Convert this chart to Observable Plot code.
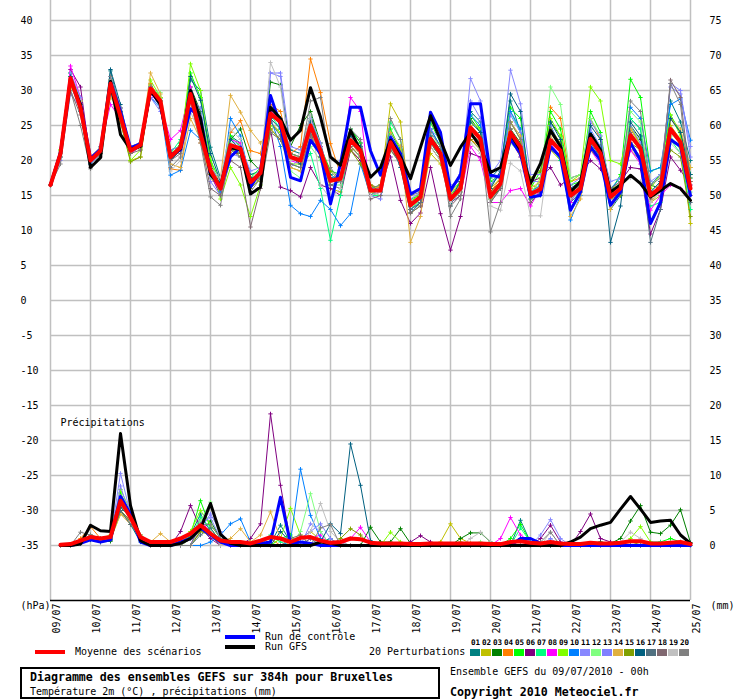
<!DOCTYPE html>
<html>
<head>
<meta charset="utf-8">
<script src="https://cdn.jsdelivr.net/npm/d3@7"></script>
<script src="https://cdn.jsdelivr.net/npm/@observablehq/plot@0.6"></script>
<style>
  html, body { margin: 0; padding: 0; background: #fff; }
  #wrap { position: relative; width: 740px; height: 700px; font-family: 'DejaVu Sans Mono', monospace; font-size: 10px; color: #000; overflow: hidden; }
  #chart { position: absolute; left: 0; top: 0; }
  #legend { position: absolute; left: 0; top: 0; width: 740px; height: 700px; }
  .abs { position: absolute; white-space: nowrap; }
  .txt { line-height: 12px; }
  .bold { font-weight: bold; font-size: 11.6px; line-height: 14px; }
  .num { font-weight: bold; font-size: 7.6px; line-height: 9px; width: 11px; text-align: center; }
</style>
</head>
<body>
<div id="wrap">
  <div id="chart"></div>
  <div id="legend"></div>
</div>
<script>
// ---------- Axis / labels ----------
const dates = ["09/07","10/07","11/07","12/07","13/07","14/07","15/07","16/07","17/07","18/07","19/07","20/07","21/07","22/07","23/07","24/07","25/07"];
const leftTicks = [-35,-30,-25,-20,-15,-10,-5,0,5,10,15,20,25,30,35,40];
const memberColors = ["#008080","#c0c000","#008000","#ff8000","#00ff00","#800080","#00ff80","#ff00ff","#80ff00","#0080ff","#8888ff","#80ff80","#8080ff","#e0b040","#80a000","#006080","#507080","#806870","#c0c0c0","#808080"];
const memberLabels = ["01","02","03","04","05","06","07","08","09","10","11","12","13","14","15","16","17","18","19","20"];

// ---------- Temperature 2m (°C), every 6h from 09/07 00h ----------
const meanT = [16.5,21.0,31.8,27.5, 20.0,21.4,31.0,26.3, 21.4,22.2,30.3,28.5, 20.5,21.9,29.5,23.8, 18.6,16.0,22.2,21.7, 16.9,18.2,26.7,25.5, 20.5,20.0,25.0,21.4, 17.1,17.4,22.9,21.4, 15.7,15.7,22.6,20.0, 13.6,14.8,23.1,21.0, 14.5,16.0,24.7,23.1, 14.8,16.7,24.0,21.9, 15.2,15.9,22.9,21.4, 15.0,16.0,23.1,21.0, 14.8,16.0,23.6,21.7, 15.0,16.2,24.5,22.6, 16.0];
const ctrlT = [16.5,21.2,31.5,28.0, 20.3,21.6,31.2,27.0, 21.8,22.4,30.0,28.0, 20.8,21.5,27.4,26.0, 18.0,16.3,20.5,21.9, 16.2,18.5,29.3,25.0, 17.6,17.1,22.9,21.0, 13.8,19.5,27.6,27.6, 21.4,17.9,23.3,21.0, 15.2,16.0,26.9,24.0, 15.7,18.0,28.1,28.1, 17.9,17.6,23.0,21.0, 14.8,15.0,22.0,20.5, 12.9,15.5,22.0,20.0, 13.6,15.5,22.5,20.0, 11.0,14.0,23.0,22.0, 15.0];
const gfsT = [16.5,21.0,31.5,28.0, 19.0,20.4,31.3,23.7, 21.6,22.0,30.0,28.0, 20.5,21.7,30.0,26.0, 18.0,16.4,21.8,21.6, 15.2,16.2,27.6,26.0, 22.9,24.3,30.4,26.2, 20.5,19.3,24.3,21.4, 17.6,19.0,22.9,20.5, 17.4,21.9,26.4,22.9, 19.3,21.9,24.0,21.9, 18.3,19.0,23.8,21.5, 16.7,19.6,24.3,22.0, 15.5,17.0,23.8,21.5, 15.5,16.5,17.9,16.7, 14.8,15.7,16.7,16.0, 14.3];
const t01 = [16.5,21.2,32.5,28.5, 20.5,21.8,32.8,27.0, 21.0,22.5,30.8,28.9, 20.0,22.5,31.5,30.0, 21.9,17.5,23.5,22.5, 18.0,18.5,27.5,26.0, 21.5,21.0,26.5,22.0, 18.0,17.0,24.5,22.5, 16.5,16.0,24.0,21.5, 14.0,15.5,24.5,22.0, 13.5,17.0,27.0,25.5, 17.5,19.0,28.5,24.0, 15.0,16.5,25.0,22.0, 14.0,15.5,22.5,20.5, 13.0,15.0,26.0,24.5, 16.5,18.0,28.5,25.5, 20.0];
const t02 = [16.5,20.5,30.5,28.0, 19.5,21.0,30.0,25.5, 20.0,20.5,30.5,29.0, 21.0,22.0,29.0,25.0, 18.0,15.5,21.0,22.5, 17.5,17.0,25.5,24.0, 19.0,18.5,23.5,21.0, 16.0,15.5,21.5,20.0, 15.0,16.5,28.1,25.5, 12.5,13.5,21.0,19.5, 15.0,16.0,25.0,23.0, 16.0,17.5,23.0,21.0, 16.5,16.0,21.5,20.0, 15.5,16.0,22.0,20.0, 16.0,16.5,21.5,20.0, 14.0,15.0,25.0,23.0, 11.0];
const t03 = [16.5,21.0,32.0,27.0, 20.0,21.0,31.0,26.5, 21.5,22.0,30.0,28.0, 21.5,22.0,30.5,27.0, 19.5,16.5,23.0,24.5, 20.0,18.5,31.2,30.8, 22.0,25.0,27.0,22.5, 17.0,17.5,23.0,21.5, 16.0,15.5,22.0,20.0, 13.0,14.0,22.5,20.5, 14.0,16.5,26.0,24.0, 14.5,16.0,24.5,22.5, 14.0,15.5,25.5,23.5, 14.5,16.5,24.0,22.0, 15.0,17.0,25.0,23.0, 16.5,16.0,24.0,22.5, 17.5];
const t04 = [16.5,21.0,31.5,28.0, 20.0,22.0,30.0,26.5, 22.0,22.5,31.0,28.5, 18.8,18.6,28.5,22.5, 17.5,16.0,24.0,25.7, 21.4,21.0,28.0,27.0, 21.0,22.0,34.5,29.7, 22.4,18.0,23.5,21.5, 16.5,16.0,23.0,20.5, 14.0,14.5,23.5,21.5, 15.0,16.5,23.0,22.0, 15.5,17.5,25.5,23.0, 15.0,16.5,27.6,26.0, 17.0,17.5,26.0,23.0, 15.5,16.5,24.5,22.5, 14.5,17.0,26.0,24.0, 17.0];
const t05 = [16.5,21.5,32.5,28.0, 20.0,21.5,30.5,26.0, 21.0,22.0,29.5,28.5, 20.5,22.5,32.5,29.0, 20.0,17.0,23.5,22.0, 17.5,19.0,27.0,26.0, 21.0,20.5,26.0,22.0, 18.5,18.0,24.5,22.5, 16.0,16.5,24.5,21.5, 14.5,15.0,25.5,22.5, 15.0,17.0,26.5,24.5, 17.0,18.0,27.5,26.0, 16.0,18.5,27.0,24.5, 16.5,17.0,27.0,24.0, 15.5,18.0,31.6,29.0, 18.5,19.0,26.5,24.0, 18.0];
const t06 = [16.5,21.0,33.0,30.5, 20.0,21.0,30.5,27.5, 21.5,22.5,30.5,28.5, 20.0,21.5,29.0,23.5, 18.0,15.0,21.0,21.0, 17.0,17.5,24.5,16.2, 15.7,14.8,19.0,16.5, 16.0,15.0,21.5,20.0, 16.0,16.0,20.5,14.3, 11.0,12.5,19.0,12.4, 7.2,12.0,21.0,20.5, 15.5,17.0,23.0,20.5, 17.0,17.5,19.0,16.5, 17.5,18.0,20.0,18.8, 16.0,17.0,19.0,18.8, 9.5,13.0,20.5,18.6, 16.5];
const t07 = [16.5,21.0,32.0,27.5, 19.5,21.5,31.0,26.5, 21.0,22.0,30.0,28.0, 21.0,23.0,30.0,25.0, 18.5,15.5,22.0,21.0, 16.5,18.0,26.5,24.5, 19.5,19.0,21.0,16.0, 8.6,15.0,23.0,21.5, 15.0,15.0,25.5,23.0, 13.0,14.5,22.5,20.5, 14.0,15.5,24.0,22.5, 14.5,16.5,27.0,24.0, 14.5,16.0,22.0,20.0, 15.5,16.5,23.5,21.0, 14.0,15.5,26.0,24.5, 13.5,14.0,23.0,21.0, 13.0];
const t08 = [16.5,21.0,33.5,29.0, 20.5,22.0,28.0,26.0, 21.0,22.0,29.5,28.0, 23.0,24.3,30.5,26.0, 18.0,15.5,23.0,22.5, 17.0,18.5,27.0,26.0, 20.0,19.5,25.5,22.0, 17.0,17.5,29.0,27.0, 15.0,15.5,22.0,19.5, 13.5,14.5,23.0,20.5, 14.0,15.0,22.0,20.0, 14.0,14.0,15.7,16.0, 13.5,16.0,22.5,20.5, 14.0,16.5,21.5,19.5, 14.0,15.5,21.5,19.5, 12.9,15.0,16.5,16.0, 15.0];
const t09 = [16.5,21.5,32.0,28.5, 20.5,21.0,31.5,27.0, 20.0,21.5,31.5,29.0, 21.0,22.0,33.8,30.0, 20.5,14.5,19.0,16.5, 12.0,16.5,25.0,24.0, 19.5,19.5,24.0,20.5, 17.5,17.0,22.0,20.5, 15.5,16.0,23.0,22.0, 14.0,15.5,22.0,20.0, 15.5,17.0,25.5,24.5, 16.5,18.0,25.5,23.0, 15.0,17.5,26.0,23.5, 17.0,18.0,30.5,28.5, 20.0,19.5,25.0,22.0, 16.0,18.0,26.5,23.5, 19.0];
const t10 = [16.5,20.5,31.0,27.0, 19.5,21.0,30.5,26.0, 22.0,22.5,29.0,27.5, 17.9,18.6,24.3,23.0, 18.5,15.5,26.0,23.5, 17.0,18.0,26.0,22.0, 13.6,12.4,12.0,14.3, 13.0,10.7,12.4,19.5, 15.0,16.0,23.5,21.0, 13.5,15.0,24.5,22.0, 16.0,17.5,26.5,25.0, 16.5,18.0,27.0,24.5, 15.5,16.5,23.0,21.5, 11.5,15.0,24.0,22.0, 16.0,17.5,27.6,26.0, 18.5,19.0,28.0,28.8, 22.9];
const t11 = [16.5,21.0,32.5,29.0, 20.0,22.0,32.0,27.5, 21.0,22.5,29.0,28.0, 21.5,22.0,29.0,27.5, 19.0,17.0,23.0,22.0, 18.5,19.0,32.5,32.0, 19.0,20.5,26.0,22.5, 17.5,18.0,24.0,21.5, 16.0,16.0,22.5,20.5, 14.5,15.5,23.0,21.0, 16.5,17.0,31.7,28.5, 18.0,20.0,32.9,28.1, 18.0,18.0,25.0,22.0, 16.5,17.5,24.5,22.0, 17.0,17.5,25.0,22.5, 17.0,18.0,30.5,29.5, 22.0];
const t12 = [16.5,21.0,31.5,27.0, 20.0,21.0,30.0,26.5, 21.0,22.5,30.0,29.7, 21.0,22.0,29.0,23.0, 17.5,16.5,22.5,21.0, 16.0,17.5,24.0,23.0, 18.5,17.5,22.0,20.0, 16.5,16.5,22.0,20.5, 15.5,15.0,21.5,19.5, 13.5,14.0,23.5,22.0, 15.0,16.5,24.0,22.5, 15.5,16.0,22.5,21.0, 15.5,17.0,30.5,28.0, 17.5,18.0,26.0,23.5, 15.5,17.0,27.0,25.5, 15.0,15.5,23.5,21.5, 15.5];
const t13 = [16.5,20.0,29.5,27.5, 19.5,21.0,29.5,26.0, 21.5,22.0,29.0,27.0, 21.0,21.5,28.5,25.5, 17.0,15.0,21.0,20.5, 16.5,18.5,32.5,32.5, 22.0,21.5,25.0,21.0, 17.0,17.5,23.5,22.0, 15.0,14.5,22.0,20.5, 13.0,14.0,24.5,23.0, 16.0,18.0,28.5,26.0, 16.5,18.5,26.5,24.0, 17.0,17.0,24.0,22.0, 16.0,17.0,25.5,23.5, 15.5,16.5,24.0,22.0, 15.5,17.0,31.0,30.0, 20.5];
const t14 = [16.5,21.0,30.5,28.5, 20.0,21.0,29.0,27.0, 21.0,22.5,32.5,29.5, 19.5,19.0,26.0,23.0, 18.0,17.5,29.3,26.9, 24.3,22.5,24.5,23.0, 19.0,18.5,23.5,20.5, 17.0,17.5,22.0,21.0, 15.5,16.5,24.0,22.0, 8.3,12.0,22.5,21.0, 15.5,16.5,25.0,23.5, 14.5,16.5,25.5,23.5, 16.0,17.0,23.5,21.5, 12.0,14.5,22.0,20.0, 13.0,15.5,24.5,22.0, 14.0,16.0,26.0,24.5, 19.0];
const t15 = [16.5,21.0,31.0,27.5, 20.0,21.0,30.0,25.5, 19.8,20.5,30.0,28.0, 20.5,21.5,29.5,23.0, 18.0,16.0,22.0,20.5, 16.0,17.5,24.5,23.0, 21.0,20.5,24.5,21.5, 18.5,17.0,21.5,19.5, 16.5,15.5,21.5,20.0, 14.0,15.0,22.5,20.5, 14.0,15.5,23.0,21.5, 15.5,17.0,23.5,21.0, 17.5,18.5,24.5,22.5, 15.5,16.5,21.5,20.0, 14.5,15.0,22.5,21.5, 15.5,16.0,21.5,20.5, 12.0];
const t16 = [16.5,21.0,32.0,28.0, 20.5,22.0,33.0,28.0, 21.5,22.0,30.5,28.5, 20.0,21.5,32.0,28.6, 21.0,17.0,23.0,21.5, 17.5,18.0,26.0,24.5, 20.5,19.5,25.5,21.5, 17.5,17.5,23.5,22.0, 16.0,15.5,22.5,19.0, 12.5,14.0,23.5,21.5, 14.5,17.0,25.5,24.0, 16.0,18.5,29.5,27.0, 15.0,16.0,25.5,23.0, 16.0,17.0,25.0,23.0, 8.3,13.5,25.5,23.5, 15.5,17.0,26.0,24.0, 18.0];
const t17 = [16.5,21.0,31.5,27.0, 20.0,21.5,31.5,27.0, 21.5,22.0,30.5,28.0, 20.5,22.0,30.0,24.5, 19.0,16.0,21.5,21.0, 17.0,18.5,25.5,23.5, 20.5,20.0,24.0,20.5, 16.5,17.0,22.5,21.0, 15.0,15.5,22.0,20.0, 13.0,14.0,22.5,20.5, 14.0,15.0,23.5,22.5, 14.0,16.0,23.5,21.5, 14.5,15.0,21.5,20.5, 14.5,15.5,22.0,20.5, 15.0,16.0,22.5,20.5, 8.3,13.0,24.0,22.5, 14.0];
const t18 = [16.5,20.5,30.0,26.5, 19.0,20.5,30.0,26.0, 21.0,21.5,30.0,27.5, 20.0,21.0,28.5,23.0, 16.0,15.0,20.0,19.0, 10.5,16.0,24.0,23.0, 19.5,19.0,23.5,20.5, 16.5,16.0,22.0,20.5, 14.5,15.0,21.5,19.5, 12.5,13.5,22.0,20.0, 13.5,15.0,24.0,22.5, 14.0,16.0,24.5,22.0, 14.0,15.5,23.0,21.5, 14.5,16.0,23.5,21.5, 14.5,15.5,24.0,22.0, 14.5,16.5,31.5,29.0, 17.0];
const t19 = [16.5,21.0,31.5,28.5, 20.5,22.0,31.5,27.5, 22.0,22.5,30.5,28.5, 18.5,20.0,27.0,23.5, 19.0,17.5,24.5,23.0, 17.0,19.0,34.0,30.5, 20.0,21.0,26.5,16.5, 14.5,16.0,23.0,21.0, 15.0,15.5,22.5,20.0, 14.0,15.0,22.0,20.0, 14.0,15.5,22.5,21.0, 13.5,12.9,19.6,18.5, 12.1,12.1,22.5,21.5, 14.5,15.5,22.0,20.0, 14.5,16.5,17.5,17.0, 14.0,15.5,22.5,21.0, 15.0];
const t20 = [16.5,19.5,30.0,25.0, 18.8,21.0,32.0,27.5, 21.5,22.5,30.5,28.0, 19.0,20.5,28.5,22.5, 14.8,13.6,21.5,20.5, 15.5,17.5,27.5,26.0, 21.0,20.5,28.5,29.0, 19.0,17.0,24.5,23.0, 16.0,16.5,26.0,23.0, 15.0,15.5,24.0,22.0, 12.0,14.5,24.5,23.0, 9.8,14.0,25.5,23.0, 15.5,16.0,24.0,22.0, 15.5,16.5,23.5,21.5, 16.0,17.0,28.5,27.0, 16.5,17.5,31.0,28.0, 15.0];

// ---------- Precipitation (mm / 6h), from 09/07 06h ----------
const meanP = [0.1,0.2,0.7,1.2,1.0,1.2,6.4,4.0, 1.2,0.5,0.5,0.5,1.0,1.7,2.9,1.7, 0.7,0.5,0.5,0.3,0.7,1.2,1.0,0.5, 1.1,1.2,0.7,0.4,0.5,1.0,0.9,0.4, 0.3,0.3,0.3,0.2,0.2,0.3,0.3,0.3, 0.3,0.3,0.3,0.2,0.2,0.5,0.6,0.4, 0.3,0.5,0.3,0.2,0.2,0.4,0.3,0.3, 0.4,0.6,0.6,0.3,0.3,0.4,0.5,0.2];
const ctrlP = [0,0,0.3,0.8,0.5,0.8,7.0,4.5, 0.5,0,0,0,0.5,1.0,2.5,1.5, 0.5,0,0,0,0.3,0.5,6.9,0.3, 0.5,0.3,0,0,0,0,0,0, 0,0,0,0,0,0,0,0, 0,0,0,0,0,0,1.0,1.0, 0.3,0,0,0,0,0,0,0, 0,0,0,0,0,0,0,0];
const gfsP = [0,0,0.2,2.9,2.1,2.0,16.0,5.7, 0.7,0,0,0,0.3,1.0,2.4,6.0, 1.6,0.3,0,0,0,0,0,0, 0,0,0.5,0.3,0,0,0,0, 0,0,0,0,0,0,0,0, 0,0,0,0,0,0,0,0, 0,0,0,0.5,1.2,2.4,2.9,3.3, 5.2,7.0,5.2,3.3,3.5,3.6,1.5,0.3];
const p01 = [0,0,0.5,1.0,0.8,1.0,5.0,3.0, 0.5,0,0,0,0,1.5,4.5,2.0, 0.5,0,0,0,0,0.3,2.9,0.5, 0,0,0.5,1.0,0,0,0,0, 0,0,0,0,0,0,0,0, 0,0,0,0,0,0,3.6,0.5, 0,0.5,0,0,0,0,0,0, 0,0,0,0,0,0,0,0];
const p02 = [0,0,0.7,1.3,1.0,0.8,4.5,3.5, 1.0,0,0,0,0.5,2.0,3.0,1.5, 0,0,0,0,0,0,0,0, 1.0,2.0,0.8,0,0,0,0,0, 0,0,0,0,0,0,0.5,3.1, 1.0,0.3,0,0,0,0,0,0, 0,0,0,0,0,0,0,0, 0,0,0,0,0,0,0,0];
const p03 = [0,0,0.3,0.8,0.5,0.6,5.5,4.0, 1.0,0,0,0,0,0,2.0,3.5, 1.0,0,0,0,0,0,0,0, 0,0,0,0,0,0,0,2.6, 0.5,0.5,2.4,0.3,0,0,0,0, 1.0,1.8,1.8,0.5,0,0,0,0, 0,0,0,0,0,0.3,0.5,0.3, 1.0,3.5,5.7,1.9,1.7,2.9,5.1,0.4];
const p04 = [0,0,1.0,2.7,1.0,1.0,6.0,4.0, 1.0,0,0,0,0,1.0,3.0,2.0, 0,0,0,0,0.5,1.0,0,0, 0,0,0,0,0,0,0,0, 0,0,0,0,0,0,0,0, 0,0,0,0,0,0,0,0, 0,0,0,0,0,0,0,0, 0,0,0,0,0,0,0,0];
const p05 = [0,0,0.5,1.2,1.0,1.2,7.5,4.5, 1.2,0,0,0,0,1.5,6.4,2.5, 0.5,0,0,0,0,0,1.0,1.5, 0,0,0,0,0,0,0,0, 0,0,0,0,0,0,0,0, 0,0,0,0,0,1.0,3.0,0.5, 0,0,0,0,0,0,0,0, 0,0,0,0,0.5,1.0,0.5,0];
const p06 = [0,0,0.5,1.0,0.8,1.0,5.0,3.5, 0.8,0,0,0,2.0,5.7,2.5,1.0, 0,0,0,1.0,3.1,18.8,8.6,0.5, 0,0,0,0,0,0,0,0, 0,0,0,0.5,1.4,0.5,0,0, 0,0,0,0,0,0,0,0, 1.0,2.9,0.5,0,2.0,4.5,1.0,0.5, 0,0,0,0,0,0,0.5,0.3];
const p07 = [0,0,0.5,1.5,1.0,1.0,6.5,4.0, 1.0,0,0,0,0,1.0,4.0,2.5, 0.5,0,0,0,0,1.5,0.5,0, 0,0,0,0,0,0,0,0, 0,0,0,0,0,0,0,0, 0,0,0,0,0,0,2.5,0.5, 0,0,0,0,0,0,0,0, 0,0,0,0.5,0.5,0,0,0];
const p08 = [0,0,0.5,1.0,0.5,1.0,7.0,4.0, 1.0,0,0,0,0,0,3.5,2.0, 0.5,0,0,0,0,0,0,0, 0,1.0,1.5,0,0,1.0,2.6,0.5, 0,0,0,0,0,0,0,0, 0,0,0,0,1.0,4.0,1.5,0.5, 0,0,0,0,0,0,0,0, 0,0,0,0,0,0,0,0];
const p09 = [0,0,0.5,1.0,1.0,1.5,8.0,5.0, 1.5,0,0,0,0,2.0,5.0,3.0, 1.0,0,0,0,0,0,1.0,5.3, 1.5,0,0,0,0,0,0,0, 0,1.9,0.5,0,0,0,0,0, 0,0,0,0,0,0,0,0, 0,0,0,0,0,0,0,0, 0,1.0,2.7,0.5,0,0,0,0];
const p10 = [0,0,0.3,0.8,0.5,0.8,6.0,5.0, 1.0,0,0,0,0,0,0,0.5, 1.5,3.1,3.8,0.5,0,0,0,0.6, 10.9,4.3,1.0,0,0,0,0,0, 0,0,0,0,0,0,0,0, 0,0,0,0,0,0,1.0,0.5, 0,0,0,0,0,0,0,0, 0,0,0,0,0,0,0,0];
const p11 = [0,0,0.5,1.0,0.8,1.0,10.3,4.5, 1.0,0,0,0,0,0,3.0,4.0, 1.0,0,0,0,0,0,0,0, 0,3.1,2.0,0,0,0,0,0, 0,0,0,0,0,0,0,0, 0,0,0,0,0,0,0,0, 1.5,3.7,1.0,0,0,0,0,0, 0,0,0,0,0,0,0,0];
const p12 = [0,0,0.5,1.0,0.8,1.0,6.5,4.0, 1.0,0,0,0,0,1.0,3.5,6.2, 1.5,0,0,0,0,0,0,0, 2.0,7.4,2.0,0,0,0,0,0, 0,0,0,0,0,0,0,0, 0,0,0.5,0,0,0,0,0, 0,0,0,0,0,0,0,0, 0,0,0,0,0,0,0,0];
const p13 = [0,0,0.3,0.8,0.5,0.8,8.5,4.0, 1.0,0,0,0,0,0,2.5,4.5, 2.0,0,0,0,0,0,0,0, 1.0,2.0,3.1,1.0,0,0,0,0, 0,0,0,0,0,0,0,0, 0,0,0,0,0,0,0,0, 0,1.0,0,0,0,0,0,0, 0,0,0,0,0,0,0,0];
const p14 = [0,0,0.5,1.5,1.0,1.0,4.5,3.0, 1.5,0.5,1.7,0.5,0,0,2.0,1.5, 0,1.0,2.4,0.5,1.5,4.8,1.0,0, 0,0,0,0,0,0,0,0, 0,0,0,0,0,0,0,0, 0,0,0,0,0,0,0,0, 0,0,0,0,0,0,0,0, 0,0,0,0,0,0,0,0];
const p15 = [0,0,0.5,1.0,0.8,0.8,5.0,3.5, 0.8,0,0,0,0,0,2.0,1.5, 0,0,0,0,0,0,0,0, 0,0,0,0,1.0,2.4,1.5,0, 0,0,0,0,0,0,0,0, 0.5,0,0,0,0,0,0,0, 0,0,0,0,0,0,0,0, 0,0,0.5,0.3,0,0,0,0];
const p16 = [0,0,0.3,0.8,0.5,0.8,5.5,4.0, 1.0,0,0,0,0,0,3.0,2.0, 0.5,0,0,0,0,0,2.0,0.5, 0,0,0.5,3.1,1.7,14.5,8.6,0.7, 0,0,0,0,0,0,0,0, 0,0,0,0,0,0,1.0,0, 0,0,0,0,0,0,0,0, 0,0,0,0,0,0,0,0];
const p17 = [0,0,0.5,1.0,0.5,1.0,5.0,3.0, 1.0,0,0,0,0,0,1.5,2.5, 0.5,0,0,0,0,0,0,0, 0,1.0,0,0,0.5,0,0,0, 0,0,0,0,0,0,0,0, 0,0,0,0,0,0,0,0, 0,0,0,0,0,0,0,0, 0,0,0,0,0,0,0,0];
const p18 = [0,0,0.5,1.5,1.0,1.0,6.5,4.5, 1.0,0,0,0,0,1.0,2.5,1.5, 0,0,0,0,0,0,0,1.0, 1.5,0,0,0,0,0,0,0, 0,0,0,0,0,0,0,0, 0,0,0,0,0,0,0,0, 0,0.5,0,0,0,0,0,0, 0,0,0,0,0,0,0,0];
const p19 = [0,0,0.5,1.0,0.8,1.0,6.0,3.5, 1.0,0,0,0,0,0,2.5,2.0, 0,0,0,0,0,0,0,0, 0,2.0,6.0,2.0,0.5,0,0,0, 0,0,0,0,0,0,0,0, 0,1.0,1.9,0.5,0,0,0,0, 0,1.9,0,0,0,0,0,0, 0.5,1.9,1.0,0,0,0,0,0];
const p20 = [0,0,1.9,1.5,1.0,1.0,6.0,4.5, 1.5,0,0,0,0,0,3.0,3.0, 1.0,0,0,0,0,0,0,0, 0,0,2.5,3.0,0,0,0,0, 0,0,0,0,0,0,0,0, 0,0,0,0,0,0,0,0, 0.5,1.9,0,0,0,0,0,0, 0,0,0,0,0,0,0,0];

const membersT = [t01,t02,t03,t04,t05,t06,t07,t08,t09,t10,t11,t12,t13,t14,t15,t16,t17,t18,t19,t20];
const membersP = [p01,p02,p03,p04,p05,p06,p07,p08,p09,p10,p11,p12,p13,p14,p15,p16,p17,p18,p19,p20];

// precipitation is drawn on the same vertical scale, its 0 mm sitting on -35
const precipBase = -35;
const tRows = arr => arr.map((v, i) => ({t: i * 6, v}));
const pRows = arr => arr.map((p, k) => ({t: (k + 1) * 6, v: p + precipBase}));
const dayHours = dates.map((d, i) => i * 24);
const yLim = 300 / 7;

const marks = [
  Plot.ruleY(leftTicks, {stroke: "#c0c0c0", strokeWidth: 1.5}),
  Plot.ruleX(dayHours, {stroke: "#c0c0c0", strokeWidth: 1.5}),
];
membersT.forEach((arr, m) => {
  marks.push(Plot.line(tRows(arr), {x: "t", y: "v", stroke: memberColors[m], strokeWidth: 1}));
  marks.push(Plot.dot(tRows(arr), {x: "t", y: "v", stroke: memberColors[m], symbol: "plus", r: 1.5, strokeWidth: 1}));
});
membersP.forEach((arr, m) => {
  marks.push(Plot.line(pRows(arr), {x: "t", y: "v", stroke: memberColors[m], strokeWidth: 1}));
  marks.push(Plot.dot(pRows(arr), {x: "t", y: "v", stroke: memberColors[m], symbol: "plus", r: 1.5, strokeWidth: 1}));
});
marks.push(
  Plot.line(tRows(ctrlT), {x: "t", y: "v", stroke: "#0000ff", strokeWidth: 3}),
  Plot.line(pRows(ctrlP), {x: "t", y: "v", stroke: "#0000ff", strokeWidth: 3}),
  Plot.line(tRows(gfsT), {x: "t", y: "v", stroke: "#000000", strokeWidth: 3}),
  Plot.line(pRows(gfsP), {x: "t", y: "v", stroke: "#000000", strokeWidth: 3}),
  Plot.line(tRows(meanT), {x: "t", y: "v", stroke: "#ff0000", strokeWidth: 4}),
  Plot.line(pRows(meanP), {x: "t", y: "v", stroke: "#ff0000", strokeWidth: 4}),
  Plot.ruleY([-yLim], {stroke: "#000", strokeWidth: 1.5}),
  // axes labels
  Plot.text(leftTicks, {y: d => d, text: d => String(d), frameAnchor: "left", textAnchor: "start", dx: -30, fontSize: 10}),
  Plot.text(leftTicks, {y: d => d, text: d => String(d - precipBase), frameAnchor: "right", textAnchor: "start", dx: 19, fontSize: 10}),
  Plot.text(dates, {x: (d, i) => dayHours[i], text: d => d, frameAnchor: "bottom", rotate: -90, textAnchor: "end", lineAnchor: "middle", dx: 6, dy: 3, fontSize: 10}),
  Plot.text(["(hPa)"], {frameAnchor: "bottom-left", textAnchor: "start", dx: -30, dy: 8, fontSize: 10}),
  Plot.text(["(mm)"], {frameAnchor: "bottom-right", textAnchor: "start", dx: 20, dy: 8, fontSize: 10}),
  Plot.text(["Précipitations"], {x: 6, y: -17.4, textAnchor: "start", fontSize: 10})
);

const chart = Plot.plot({
  width: 740,
  height: 700,
  marginLeft: 50,
  marginRight: 50,
  marginTop: 0,
  marginBottom: 100,
  style: {fontFamily: "'DejaVu Sans Mono', monospace", fontSize: "10px", background: "#fff", color: "#000"},
  x: {domain: [0, 384], axis: null},
  y: {domain: [-yLim, yLim], axis: null},
  marks
});
document.getElementById("chart").appendChild(chart);

// ---------- Legend (HTML laid over the free strip under the plot frame) ----------
const lg = document.getElementById("legend");
function add(html) { lg.insertAdjacentHTML("beforeend", html); }
add(`<div class="abs" style="left:35px;top:650px;width:30px;height:4px;background:#ff0000"></div>`);
add(`<div class="abs txt" style="left:75px;top:646px">Moyenne des scénarios</div>`);
add(`<div class="abs" style="left:225px;top:635px;width:30px;height:4px;background:#0000ff"></div>`);
add(`<div class="abs txt" style="left:265px;top:631px">Run de contrôle</div>`);
add(`<div class="abs" style="left:225px;top:645px;width:30px;height:4px;background:#000"></div>`);
add(`<div class="abs txt" style="left:265px;top:641px">Run GFS</div>`);
add(`<div class="abs txt" style="left:369px;top:646px">20 Perturbations</div>`);
memberColors.forEach((c, k) => {
  add(`<div class="abs num" style="left:${470 + 11 * k}px;top:638px">${memberLabels[k]}</div>`);
  add(`<div class="abs" style="left:${470 + 11 * k}px;top:649px;width:10px;height:7px;background:${c}"></div>`);
});
add(`<div class="abs" style="left:20px;top:667px;width:420px;height:32px;border:2px solid #000;box-sizing:border-box"></div>`);
add(`<div class="abs bold" style="left:30px;top:670px">Diagramme des ensembles GEFS sur 384h pour Bruxelles</div>`);
add(`<div class="abs txt" style="left:30px;top:686px">Température 2m (°C) , précipitations (mm)</div>`);
add(`<div class="abs txt" style="left:450px;top:666px">Ensemble GEFS du 09/07/2010 - 00h</div>`);
add(`<div class="abs bold" style="left:450px;top:685px">Copyright 2010 Meteociel.fr</div>`);
</script>
</body>
</html>
